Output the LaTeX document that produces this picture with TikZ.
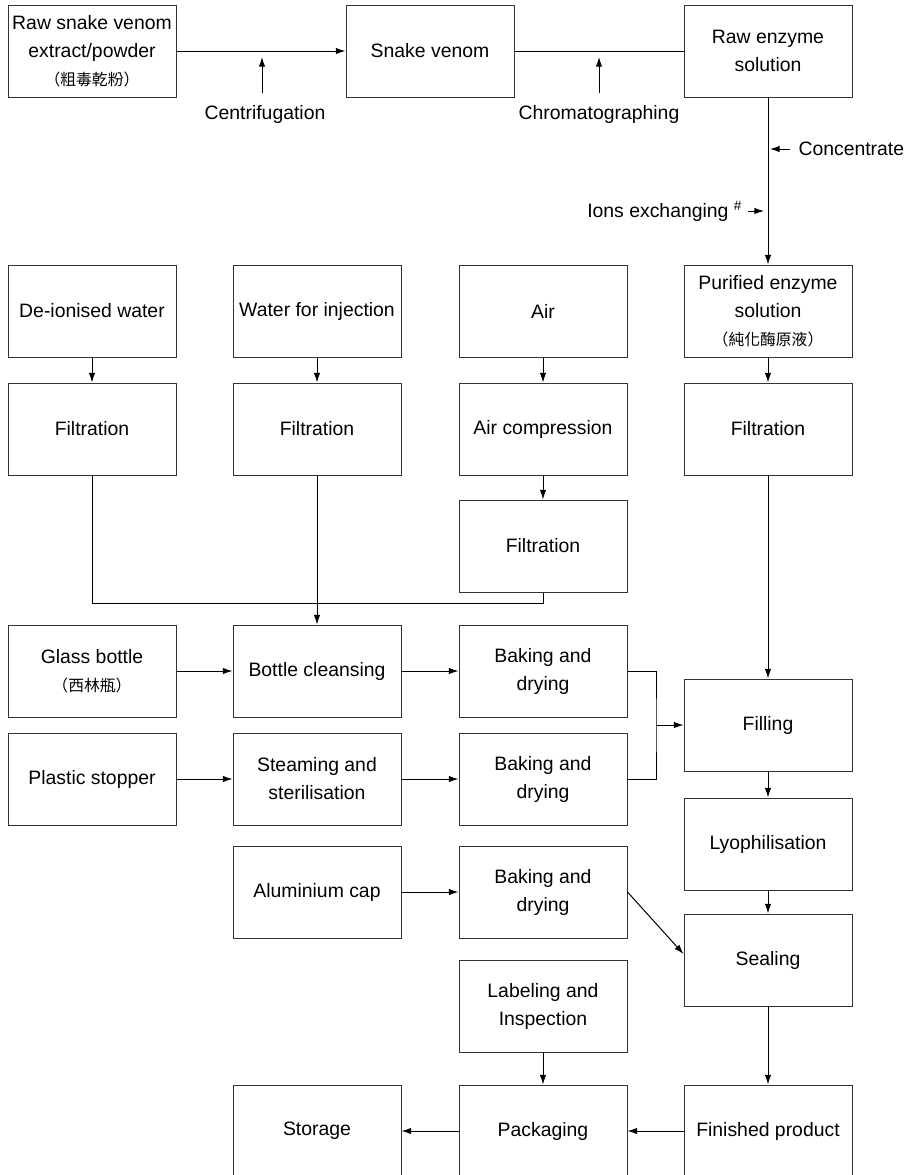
\documentclass[tikz,border=0pt]{standalone}
\usepackage{fontspec}
\setmainfont{Liberation Sans}
\newfontfamily\cjk{Noto Sans CJK TC}
\usetikzlibrary{arrows.meta}
\newcommand{\zh}[1]{{\cjk\fontsize{7.9}{9}\selectfont #1}}

\begin{document}
\begin{tikzpicture}[x=0.5pt,y=-0.5pt,line width=0.5pt,>={Latex[length=4.8pt,width=3.2pt]}]
  \tikzstyle{box}=[draw=black!80,minimum width=84pt,minimum height=46pt,inner sep=1pt,align=center,font=\fontsize{9.7}{14}\selectfont]
  \tikzstyle{lbl}=[inner sep=0pt,font=\fontsize{9.7}{14}\selectfont]
  \useasboundingbox (0,0) rectangle (913,1175);
  \clip (0,0) rectangle (913,1175);
  % venom to enzyme
  \node[box] (RS) at (92,51)  {Raw snake venom\\extract/powder\\\zh{（粗毒乾粉）}};
  \node[box] (SV) at (430,51) {Snake venom};
  \node[box] (RE) at (768,51) {Raw enzyme\\solution};
  \node[lbl] (CF) at (265,114) {Centrifugation};
  \node[lbl] (CH) at (599,114) {Chromatographing};
  \node[lbl,anchor=west] (CO) at (798,149) {Concentrate};
  \node[lbl,anchor=east] (IO) at (743,211) {Ions exchanging \textsuperscript{\#}};
  \coordinate (cfa) at (262,93);
  \coordinate (cha) at (599,93);
  \coordinate (coa) at (790,149);
  \coordinate (ioa) at (748,211);
  % inputs
  \node[box] (DW) at (92,311)  {De-ionised water};
  \node[box] (WI) at (317,311) {Water for injection};
  \node[box] (AI) at (543,311) {Air};
  \node[box] (PE) at (768,311) {Purified enzyme\\solution\\\zh{（純化酶原液）}};
  \node[box] (F1) at (92,429)  {Filtration};
  \node[box] (F2) at (317,429) {Filtration};
  \node[box] (AC) at (543,429) {Air compression};
  \node[box] (F4) at (768,429) {Filtration};
  \node[box] (F3) at (543,546) {Filtration};
  \coordinate (m) at (317,603);
  % bottles and stoppers
  \node[box] (GB)  at (92,671)  {Glass bottle\\\zh{（西林瓶）}};
  \node[box] (BC)  at (317,671) {Bottle cleansing};
  \node[box] (BD1) at (543,671) {Baking and\\drying};
  \node[box] (FI)  at (768,725) {Filling};
  \node[box] (PS)  at (92,779)  {Plastic stopper};
  \node[box] (ST)  at (317,779) {Steaming and\\sterilisation};
  \node[box] (BD2) at (543,779) {Baking and\\drying};
  \coordinate (j) at (656,725);
  \node[box] (LY)  at (768,844) {Lyophilisation};
  \node[box] (AL)  at (317,892) {Aluminium cap};
  \node[box] (BD3) at (543,892) {Baking and\\drying};
  \node[box] (SE)  at (768,960) {Sealing};
  \node[box] (LI)  at (543,1006) {Labeling and\\Inspection};
  \node[box] (SO)  at (317,1131) {Storage};
  \node[box] (PA)  at (543,1131) {Packaging};
  \node[box] (FP)  at (768,1131) {Finished product};

  \draw[->] (RS) -- (SV);
  \draw (SV) -- (RE);
  \draw[->,shorten >=3pt] (cfa) -- (cfa |- RS.east);
  \draw[->,shorten >=3pt] (cha) -- (cha |- SV.east);
  \draw[->] (RE) -- (PE);
  \draw[->,shorten >=1pt] (coa) -- (coa -| RE.south);
  \draw[->,shorten >=2pt] (ioa) -- (ioa -| RE.south);
  \draw[->] (DW) -- (F1);
  \draw[->] (WI) -- (F2);
  \draw[->] (AI) -- (AC);
  \draw[->] (PE) -- (F4);
  \draw[->] (AC) -- (F3);
  \draw (F1.south) |- (m) -| (F3.south);
  \draw[->] (F2) -- (BC);
  \draw[->] (GB) -- (BC);
  \draw[->] (BC) -- (BD1);
  \draw[->] (PS) -- (ST);
  \draw[->] (ST) -- (BD2);
  \draw (BD1.east) -| (j) |- (BD2.east);
  \draw[->] (j) -- (FI);
  \draw[->] (F4) -- (FI);
  \draw[->] (FI) -- (LY);
  \draw[->] (LY) -- (SE);
  \draw[->] (AL) -- (BD3);
  \draw[->] (BD3.east) -- ([yshift=3pt]SE.west);
  \draw[->] (SE) -- (FP);
  \draw[->] (LI) -- (PA);
  \draw[->] (FP) -- (PA);
  \draw[->] (PA) -- (SO);
\end{tikzpicture}
\end{document}
